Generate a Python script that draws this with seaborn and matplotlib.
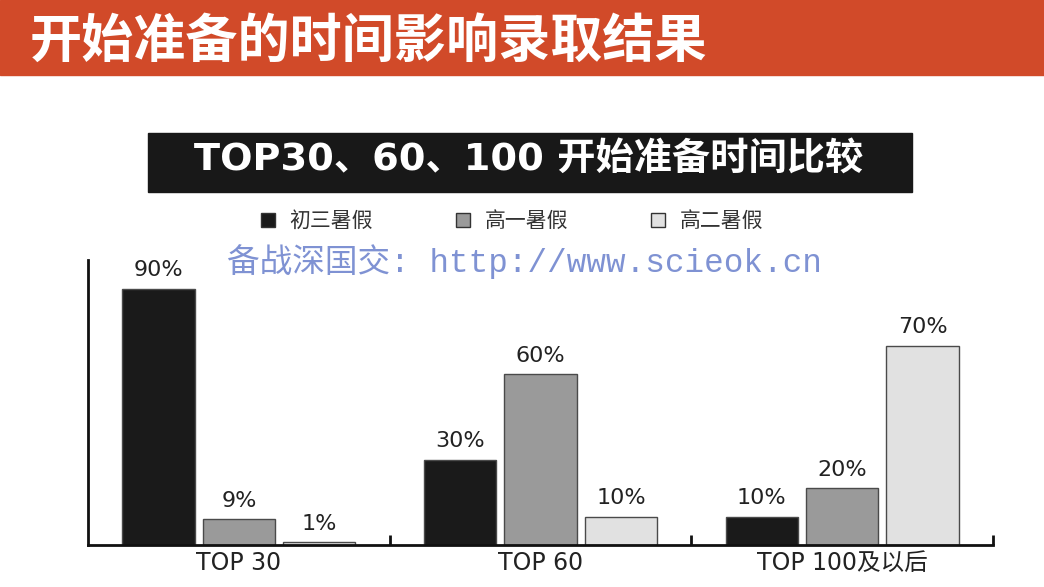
import matplotlib
matplotlib.use("Agg")
import matplotlib.pyplot as plt
import numpy as np
import pandas as pd
import seaborn as sns
from matplotlib.patches import Rectangle

# data
groups = ["TOP 30", "TOP 60", "TOP 100及以后"]
series = ["初三暑假", "高一暑假", "高二暑假"]
chu3 = [90, 30, 10]
gao1 = [9, 60, 20]
gao2 = [1, 10, 70]

df = pd.DataFrame({
    "group": groups * 3,
    "series": [series[0]] * 3 + [series[1]] * 3 + [series[2]] * 3,
    "value": chu3 + gao1 + gao2,
})

colors = ["#1a1a1a", "#9a9a9a", "#e1e1e1"]

sns.set_theme(style="white")
plt.rcParams['font.family'] = ['DejaVu Sans', 'Noto Sans CJK SC']

fig = plt.figure(figsize=(10.44, 5.87), dpi=100)
ax = fig.add_axes([88 / 1044, 42 / 587, 905 / 1044, 285 / 587])

sns.barplot(data=df, x="group", y="value", hue="series", order=groups,
            hue_order=series, palette=colors, width=0.8, gap=0.1,
            edgecolor="#4a4a4a", linewidth=1, ax=ax, legend=False)

ax.set_xlim(-0.5, 2.5)
ax.set_ylim(0, 100)
ax.set_xlabel("")
ax.set_ylabel("")
ax.set_yticks([])
ax.tick_params(axis="x", which="major", length=0, labelsize=17,
               labelcolor="#222222", pad=4)
ax.set_xticks([0.5, 1.5, 2.5], minor=True)
ax.tick_params(axis="x", which="minor", bottom=True, direction="in",
               length=7, width=2, color="#111111")
for s in ["top", "right"]:
    ax.spines[s].set_visible(False)
for s in ["left", "bottom"]:
    ax.spines[s].set_color("#111111")
    ax.spines[s].set_linewidth(2)

for c in ax.containers:
    ax.bar_label(c, labels=[f"{int(v)}%" for v in c.datavalues],
                 padding=6, fontsize=16, color="#222222")

# header band
fig.patches.append(Rectangle((0, 1 - 75 / 587), 1, 75 / 587,
                             transform=fig.transFigure, color="#d14a29",
                             zorder=0))
fig.text(30 / 1044, 1 - 41 / 587, "开始准备的时间影响录取结果",
         family=['Noto Sans CJK SC'], weight="bold", fontsize=37.5,
         color="white", ha="left", va="center")

# black title box
fig.patches.append(Rectangle((148 / 1044, 1 - 192 / 587), 764 / 1044,
                             59 / 587, transform=fig.transFigure,
                             color="#181818", zorder=0))
fig.text(529 / 1044, 1 - 161 / 587, "TOP30、60、100 开始准备时间比较",
         family=['DejaVu Sans', 'Noto Sans CJK SC'], weight="bold",
         fontsize=27.5, color="white", ha="center", va="center")

# legend
handles = [Rectangle((0, 0), 1, 1, facecolor=col, edgecolor="#333333",
                     linewidth=1) for col in colors]
fig.legend(handles, series, loc="center", ncol=3,
           bbox_to_anchor=(512 / 1044, 1 - 221 / 587), frameon=False,
           handlelength=0.65, handleheight=0.65,
           handletextpad=0.7, columnspacing=4.0, labelcolor="#333333",
           prop={'family': ['Noto Sans CJK SC'], 'size': 15})

# watermark
fig.text(524 / 1044, 1 - 262 / 587, "备战深国交: http://www.scieok.cn",
         family=['Liberation Mono', 'Noto Sans CJK SC'], fontsize=23.5,
         color="#7f92d3", ha="center", va="center")

fig.savefig("out.png", dpi=100)
